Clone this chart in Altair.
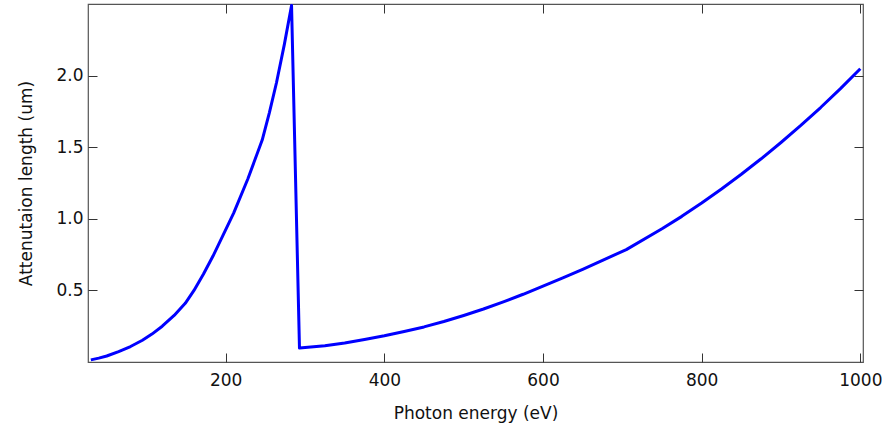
import altair as alt
import pandas as pd

energy_ev = [30, 40, 50, 65, 80, 95, 107, 120, 135, 149, 160, 172, 184, 197, 210, 228, 246, 255, 264, 274, 283,
             293, 325, 350, 375, 400, 425, 450, 475, 500, 525, 550, 575, 600, 625, 650, 675, 705,
             750, 775, 800, 825, 850, 875, 900, 925, 950, 975, 1000]
atten_um = [0.015, 0.027, 0.042, 0.073, 0.108, 0.152, 0.195, 0.25, 0.325, 0.41, 0.50, 0.615, 0.74, 0.89, 1.04, 1.28, 1.55, 1.74, 1.95, 2.22, 2.49,
            0.097, 0.114, 0.133, 0.157, 0.183, 0.213, 0.245, 0.283, 0.325, 0.37, 0.42, 0.473, 0.53, 0.587, 0.647, 0.71, 0.785,
            0.93, 1.017, 1.11, 1.208, 1.311, 1.419, 1.533, 1.652, 1.777, 1.909, 2.048]

x_ticks = [200, 400, 600, 800, 1000]
y_ticks = [0.5, 1.0, 1.5, 2.0]

df = pd.DataFrame({"E": energy_ev, "L": atten_um})

FONT = "DejaVu Sans"
TICK_COLOR = "#333333"

xscale = alt.Scale(domain=[26.4, 1003.4], nice=False, zero=False)
yscale = alt.Scale(domain=[0, 2.5], nice=False, zero=False)

common_axis = dict(domain=False, grid=False, offset=-9, tickSize=9, tickWidth=1,
                   tickColor=TICK_COLOR, labelFont=FONT, labelFontSize=17,
                   labelColor="#111111", titleFont=FONT, titleFontSize=17,
                   titleFontWeight="normal", titleColor="#111111")

line = alt.Chart(df).mark_line(color="#0000ff", strokeWidth=3, clip=True,
                               strokeJoin="round").encode(
    x=alt.X("E:Q", scale=xscale,
            axis=alt.Axis(orient="bottom", values=x_ticks, format="d",
                          title="Photon energy (eV)", labelPadding=10,
                          titleBaseline="alphabetic", titleY=65, **common_axis)),
    y=alt.Y("L:Q", scale=yscale,
            axis=alt.Axis(orient="left", values=y_ticks, format=".1f",
                          title="Attenutaion length (um)", labelPadding=5,
                          titleBaseline="alphabetic", titleAngle=270, titleX=-66,
                          titleY=179, titleAlign="center", **common_axis)),
)

mirror = alt.Chart(df).mark_line(opacity=0).encode(
    x=alt.X("E:Q", scale=xscale,
            axis=alt.Axis(orient="top", values=x_ticks, labels=False, title=None,
                          **common_axis)),
    y=alt.Y("L:Q", scale=yscale,
            axis=alt.Axis(orient="right", values=y_ticks, labels=False, title=None,
                          **common_axis)),
)

chart = alt.layer(line, mirror).resolve_axis(x="independent", y="independent").properties(
    width=775, height=358,
    autosize=alt.AutoSizeParams(type="none"),
    padding={"left": 88, "top": 4, "right": 19, "bottom": 64},
    background="white",
).configure_view(stroke="#555555", strokeWidth=1.2)

chart.save("out.html", embed_options={"renderer": "svg", "actions": False})
